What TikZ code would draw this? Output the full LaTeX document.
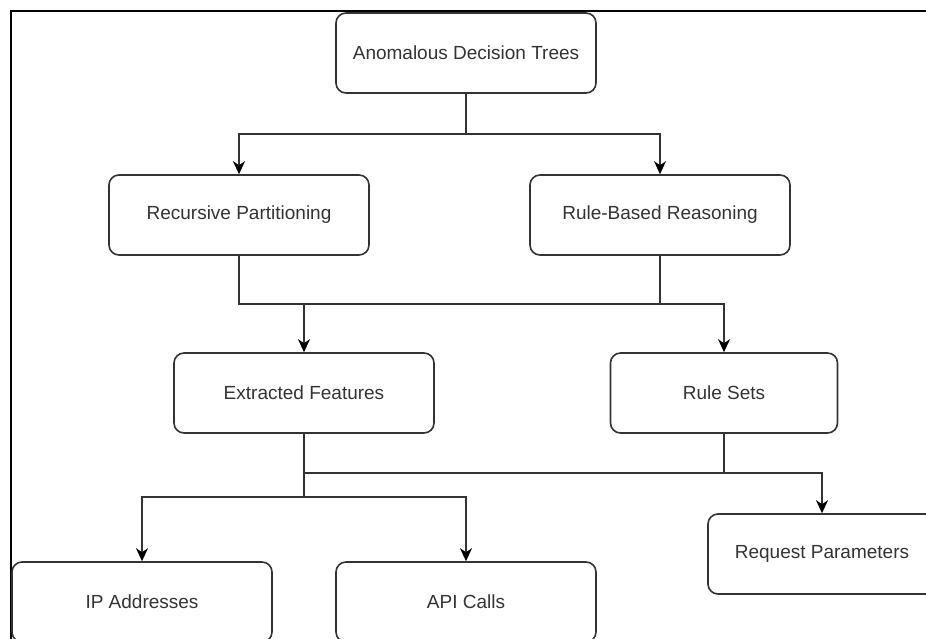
\documentclass[tikz,border=0pt]{standalone}
\usepackage{fontspec}
\setmainfont{Liberation Sans}
\usepackage{tikz}
\usetikzlibrary{arrows.meta}
\definecolor{boxline}{RGB}{51, 51, 51}
\definecolor{boxtext}{RGB}{51, 51, 51}

\begin{document}
\begin{tikzpicture}[x=1pt, y=-1pt,
		box/.style={draw=boxline, line width=1.6pt, rounded corners=10pt,
			minimum width=260pt, minimum height=80pt, text=boxtext,
			font=\fontsize{19}{22}\selectfont},
		link/.style={draw=boxline, line width=1.6pt},
		arr/.style={link, -{Stealth[length=13pt, width=12pt, inset=4pt, black]}}]
			\clip (0,0) rectangle (926,639);
			% frame, cut at the right and bottom
			\draw[black, line width=2pt] (11,660) -- (11,11) -- (950,11);

			% Top
			\node[box] (adt) at (466,53) {Anomalous Decision Trees};
			% Row 2
			\node[box] (rp) at (239,215) {Recursive Partitioning};
			\node[box] (rbr) at (660,215) {Rule-Based Reasoning};
			% Row 3
			\node[box] (ef) at (304,393) {Extracted Features};
			\node[box, minimum width=227pt] (rs) at (724,393) {Rule Sets};
			% Row 4
			\node[box, minimum width=228pt] (rq) at (822,554) {Request Parameters};
			\node[box] (ip) at (142,602) {IP Addresses};
			\node[box] (api) at (466,602) {API Calls};

			\coordinate (j1) at (466,134);
			\coordinate (j2) at (304,304);
			\coordinate (j3) at (304,473);
			\coordinate (j4) at (304,497);

			\draw[link] (adt.south) -- (j1);
			\draw[arr] (j1) -| (rp.north);
			\draw[arr] (j1) -| (rbr.north);

			\draw[arr] (rp.south) |- (j2) -| (rs.north);
			\draw[link] (rbr.south) -- (rbr.south |- j2);
			\draw[arr] (j2) -- (ef.north);

			\draw[link] (ef.south) -- (j4);
			\draw[arr] (j4) -| (ip.north);
			\draw[arr] (j4) -| (api.north);
			\draw[arr] (j3) -| (rq.north);
			\draw[link] (rs.south) -- (rs.south |- j3);

		\end{tikzpicture}
\end{document}
